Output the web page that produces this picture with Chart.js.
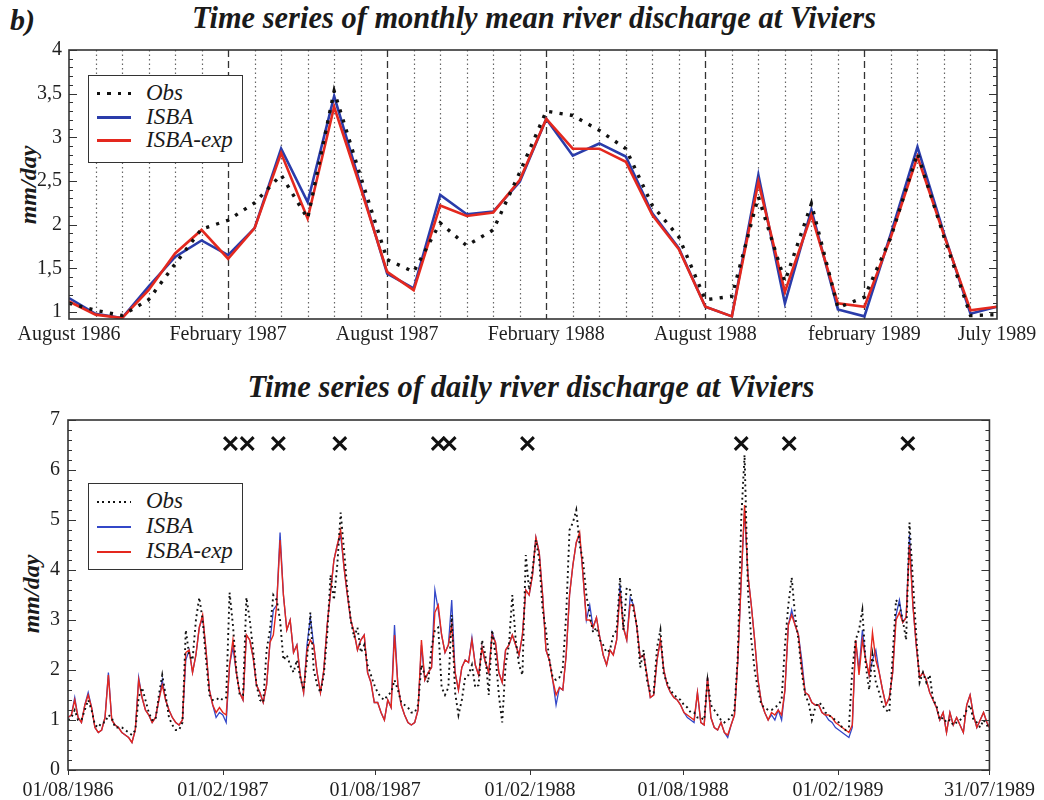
<!DOCTYPE html>
<html>
<head>
<meta charset="utf-8">
<script src="https://cdn.jsdelivr.net/npm/chart.js@4.4.1/dist/chart.umd.min.js"></script>
<style>
html, body { margin: 0; padding: 0; background: #fff; }
#page { position: relative; width: 1044px; height: 800px; overflow: hidden;
  font-family: "Liberation Serif", "Times New Roman", serif; color: #1a1a1a; }
canvas { position: absolute; left: 0; }
.title { position: absolute; white-space: nowrap; font-weight: bold; font-style: italic;
  font-size: 32px; line-height: 32px; }
.panel-tag { position: absolute; left: 10px; top: 5px; font-weight: bold; font-style: italic;
  font-size: 30px; line-height: 30px; }
.ytitle { position: absolute; white-space: nowrap; font-weight: bold; font-style: italic;
  font-size: 24px; line-height: 24px; transform: translate(-50%, -50%) rotate(-90deg); }
.legend { position: absolute; left: 88px; width: 155px; background: #fff;
  border: 1.5px solid #333; box-sizing: border-box; }
.legend .sw { position: absolute; left: 8px; width: 34px; }
.legend .lab { position: absolute; left: 57px; font-style: italic; font-size: 23px;
  line-height: 24px; white-space: nowrap; }
</style>
</head>
<body>
<div id="page">
  <div class="panel-tag">b)</div>
  <div class="title" id="t1" style="left:534px; top:1px;">Time series of monthly mean river discharge at Viviers</div>
  <div class="title" id="t2" style="left:531px; top:370px;">Time series of daily river discharge at Viviers</div>
  <div class="ytitle" style="left:28px; top:185px;">mm/day</div>
  <div class="ytitle" style="left:31px; top:594px;">mm/day</div>

  <canvas id="monthly" width="1044" height="345" style="top:0;"></canvas>
  <canvas id="daily" width="1044" height="400" style="top:400px;"></canvas>

  <div class="legend" style="top:75px; height:88px;">
    <div class="sw" style="top:16px; height:3px; background:repeating-linear-gradient(90deg,#111 0 3px,transparent 3px 10.5px);"></div>
    <div class="lab" style="top:5px;">Obs</div>
    <div class="sw" style="top:40px; height:3px; background:#2a3caa;"></div>
    <div class="lab" style="top:29px;">ISBA</div>
    <div class="sw" style="top:63px; height:3px; background:#e4281e;"></div>
    <div class="lab" style="top:52px;">ISBA-exp</div>
  </div>

  <div class="legend" style="top:483px; height:87px;">
    <div class="sw" style="top:17px; height:2px; background:repeating-linear-gradient(90deg,#111 0 2px,transparent 2px 5.5px);"></div>
    <div class="lab" style="top:5px;">Obs</div>
    <div class="sw" style="top:42px; height:1.5px; background:#3347c8;"></div>
    <div class="lab" style="top:30px;">ISBA</div>
    <div class="sw" style="top:67px; height:1.5px; background:#e4281e;"></div>
    <div class="lab" style="top:55px;">ISBA-exp</div>
  </div>
</div>

<script>
// ---------- Monthly means, Aug 1986 .. Jul 1989 (mm/day) ----------
const monthlyObs = [1.10, 1.02, 0.96, 1.14, 1.55, 1.95, 2.05, 2.25, 2.57, 2.07, 3.53, 2.55,
  1.60, 1.46, 2.02, 1.76, 1.94, 2.60, 3.30, 3.25, 3.08, 2.87, 2.22, 1.86,
  1.14, 1.18, 2.32, 1.35, 2.24, 1.05, 1.17, 1.86, 2.82, 1.86, 0.96, 0.97];
const monthlyIsba = [1.16, 0.98, 0.93, 1.29, 1.63, 1.82, 1.65, 1.96, 2.87, 2.26, 3.47, 2.45,
  1.44, 1.27, 2.34, 2.12, 2.15, 2.49, 3.21, 2.79, 2.93, 2.78, 2.13, 1.73,
  1.06, 0.95, 2.57, 1.10, 2.17, 1.03, 0.95, 1.90, 2.89, 1.90, 0.98, 1.06];
const monthlyIsbaExp = [1.12, 0.97, 0.93, 1.25, 1.67, 1.94, 1.61, 1.96, 2.82, 2.07, 3.35, 2.42,
  1.46, 1.25, 2.22, 2.10, 2.14, 2.51, 3.21, 2.87, 2.87, 2.72, 2.11, 1.72,
  1.06, 0.95, 2.49, 1.23, 2.11, 1.10, 1.06, 1.86, 2.78, 1.88, 1.02, 1.06];
const monthTickIdx = [0, 6, 12, 18, 24, 30, 35];
const monthTickText = ['August 1986', 'February 1987', 'August 1987', 'February 1988',
  'August 1988', 'february 1989', 'July 1989'];
const monthlyYTicks = [1, 1.5, 2, 2.5, 3, 3.5, 4];
const monthlyYTickText = ['1', '1,5', '2', '2,5', '3', '3,5', '4'];

// ---------- Daily discharge, one sample every 4 days from 01/08/1986 (mm/day) ----------
const STEP_DAYS = 4;
const LAST_DAY = 1095;
const dailyObs = [
  1.0,1.05,1.2,1.0,1.0,1.2,1.4,1.2,0.9,0.85, 0.95,0.95,1.1,1.05,0.85,0.85,0.85,0.8,0.75,0.7,
  0.8,1.45,1.65,1.4,1.15,1.0,1.0,1.5,1.9,1.5, 1.05,0.9,0.8,0.8,0.95,2.8,2.3,2.2,3.0,3.45,
  3.0,2.2,1.5,1.4,1.4,1.45,1.4,1.45,3.55,2.9, 2.0,1.5,1.5,3.45,3.0,2.4,1.7,1.4,1.35,2.4,
  2.8,3.5,3.4,3.0,2.2,2.3,2.1,1.95,2.2,
  1.85,1.6,2.2,3.15,2.0,1.7,1.55,1.9,2.7,3.9, 3.4,4.1,5.15,4.4,3.6,3.0,2.65,2.85,2.35,2.5,
  2.1,1.9,1.7,1.55,1.45,1.4,1.5,1.55,1.8,1.6, 1.35,1.3,1.25,1.15,1.15,1.3,2.1,1.9,1.75,2.45,
  2.8,2.85,1.65,1.5,1.65,3.1,1.55,1.1,1.4,1.85, 1.9,2.1,1.65,1.7,2.6,2.3,1.5,2.8,2.3,1.5,
  0.95,2.1,2.5,3.5,2.6,2.1,1.9,4.3,
  3.6,4.0,4.6,4.2,3.2,2.8,2.2,1.85,1.8,1.85, 2.05,3.1,4.8,4.95,5.2,4.5,4.2,3.5,3.1,2.75,
  2.85,2.6,2.5,2.35,2.4,2.7,2.8,3.85,2.8,3.65, 3.6,3.2,2.9,2.05,2.4,1.8,1.55,1.55,2.45,2.8,
  1.9,1.75,1.6,1.5,1.45,1.4,1.3,1.25,1.15,1.15, 1.05,1.05,1.0,1.8,1.3,1.2,1.1,1.0,0.95,1.0,
  1.05,1.2,2.3,5.0,6.3,3.6,2.6,2.0,
  1.6,1.3,1.25,1.2,1.2,1.25,1.3,1.4,2.5,3.3, 3.85,3.1,2.6,1.95,1.5,1.35,1.0,1.25,1.35,1.3,
  1.15,1.1,1.05,1.0,0.95,0.85,0.8,0.85,2.0,2.6, 2.8,3.2,2.1,1.6,2.3,1.75,1.55,1.3,1.2,1.15,
  2.3,3.4,3.3,3.0,2.6,4.95,3.8,2.7,1.75,1.95, 1.75,1.9,1.4,1.3,1.0,1.05,0.95,1.0,0.9,0.95,
  1.0,1.05,1.2,1.3,1.0,0.95,0.85,1.0,0.9,0.8
];
const dailyIsba = [
  1.05,1.1,1.45,1.05,0.95,1.3,1.55,1.25,0.85,0.75, 0.8,1.05,1.95,1.0,0.9,0.85,0.75,0.7,0.65,0.55,
  0.8,1.85,1.45,1.2,1.1,0.95,1.05,1.4,1.8,1.4, 1.2,1.05,0.95,0.9,1.0,2.2,2.4,1.95,2.3,2.85,
  3.05,2.4,1.6,1.3,1.05,1.15,1.1,0.95,2.1,2.45, 1.95,1.55,1.4,2.7,2.6,2.25,1.7,1.55,1.35,1.7,
  2.55,3.2,3.3,4.75,3.5,2.8,3.0,2.35,2.5,
  1.9,1.55,2.5,3.05,2.5,1.95,1.55,2.0,2.9,3.55, 4.2,4.5,4.7,4.05,3.5,3.0,2.75,2.4,2.6,2.7,
  1.95,1.75,1.35,1.35,1.15,1.0,1.4,1.25,2.9,1.7, 1.3,1.1,0.95,0.9,0.95,1.2,2.5,1.8,1.95,2.05,
  3.6,3.2,2.7,2.35,2.5,3.4,1.95,1.6,2.05,2.2, 2.15,2.65,2.1,1.9,2.45,2.15,1.95,2.75,2.55,1.95,
  1.75,2.4,2.5,2.7,2.5,2.3,2.7,3.6,
  3.5,3.9,4.65,4.35,3.5,2.4,2.2,1.8,1.3,1.65, 1.6,2.3,3.5,4.1,4.55,4.7,3.9,3.0,3.3,2.85,
  3.05,2.65,2.3,2.1,2.4,2.3,2.6,3.7,2.85,2.6, 3.45,3.3,2.85,2.25,2.3,1.9,1.45,1.5,2.2,2.6,
  2.0,1.7,1.55,1.45,1.4,1.3,1.15,1.05,1.0,0.95, 1.55,0.95,0.9,1.85,1.05,0.85,0.8,0.95,0.75,0.65,
  0.9,1.1,2.2,3.8,5.2,3.9,3.3,2.6,
  1.8,1.35,1.15,1.0,1.1,1.0,1.2,1.0,1.6,2.9, 3.2,2.9,2.7,2.2,1.55,1.5,1.35,1.3,1.3,1.15,
  1.1,1.0,0.95,0.85,0.8,0.75,0.7,0.65,0.85,2.6, 2.0,2.8,2.2,1.9,2.2,2.4,1.95,1.6,1.3,1.45,
  1.95,3.1,3.4,2.95,3.05,4.7,3.3,2.5,1.85,1.95, 1.8,1.55,1.4,1.25,1.0,1.15,0.75,1.15,0.9,1.05,
  0.9,0.75,1.3,1.5,1.1,0.85,1.0,1.15,0.95,0.85
];
const dailyIsbaExp = [
  1.05,1.1,1.4,1.05,0.95,1.3,1.5,1.25,0.85,0.75, 0.8,1.05,1.9,1.0,0.9,0.85,0.75,0.7,0.65,0.55,
  0.8,1.8,1.45,1.2,1.1,0.95,1.05,1.4,1.7,1.4, 1.2,1.05,0.95,0.9,1.0,2.35,2.4,1.95,2.3,2.85,
  3.1,2.4,1.6,1.3,1.15,1.25,1.15,1.1,2.1,2.6, 1.95,1.55,1.4,2.7,2.6,2.25,1.7,1.55,1.35,1.7,
  2.55,2.7,3.3,4.6,3.5,2.8,3.0,2.35,2.5,
  1.9,1.55,2.4,2.6,2.5,1.95,1.55,2.0,2.9,3.55, 4.2,4.5,4.8,4.05,3.5,3.0,2.75,2.4,2.6,2.7,
  1.95,1.75,1.35,1.35,1.15,1.0,1.4,1.25,2.7,1.7, 1.3,1.1,0.95,0.9,0.95,1.2,2.6,1.8,1.95,2.05,
  3.15,3.3,2.7,2.35,2.5,2.9,1.95,1.6,2.05,2.2, 2.15,2.6,2.1,1.9,2.45,2.15,1.95,2.7,2.55,1.95,
  1.75,2.4,2.5,2.7,2.5,2.3,2.7,3.6,
  3.5,3.9,4.65,4.35,3.5,2.4,2.2,1.8,1.5,1.65, 1.6,2.3,3.5,4.1,4.55,4.75,3.9,3.0,3.0,2.85,
  3.05,2.65,2.3,2.1,2.4,2.3,2.6,3.55,2.85,2.6, 3.3,3.3,2.85,2.25,2.3,1.9,1.45,1.5,2.2,2.6,
  2.0,1.7,1.55,1.45,1.4,1.3,1.15,1.1,1.05,1.0, 1.55,0.95,0.9,1.85,1.05,0.85,0.8,0.95,0.75,0.7,
  0.9,1.1,2.2,3.8,5.3,3.9,3.3,2.6,
  1.8,1.35,1.15,1.0,1.15,1.1,1.2,1.1,1.6,2.9, 3.1,2.9,2.7,2.05,1.55,1.5,1.35,1.3,1.3,1.15,
  1.1,1.1,1.05,0.95,0.9,0.85,0.8,0.75,0.9,2.6, 1.9,2.6,2.2,1.9,2.75,2.2,1.95,1.6,1.3,1.45,
  1.95,3.0,3.15,2.95,3.05,4.5,3.3,2.5,1.85,1.95, 1.8,1.55,1.4,1.25,1.0,1.15,0.75,1.15,0.9,1.05,
  0.9,0.75,1.3,1.5,1.1,0.85,1.0,1.15,0.95,0.85
];
// flood events (day offsets) flagged with a cross above the curves
const floodDays = [193, 213, 250, 323, 440, 453, 546, 800, 857, 998];
const floodMarkLevel = 6.53;
const dailyTickDays = [0, 184, 365, 549, 731, 915, 1095];
const dailyTickText = ['01/08/1986', '01/02/1987', '01/08/1987', '01/02/1988',
  '01/08/1988', '01/02/1989', '31/07/1989'];

// ---------- colours ----------
const OBS_COLOR = '#111111';
const ISBA_COLOR = '#2a3caa';
const ISBA_DAILY_COLOR = '#3347c8';
const EXP_COLOR = '#e4281e';
const FRAME_COLOR = '#333333';

Chart.defaults.font.family = '"Liberation Serif", "Times New Roman", serif';
Chart.defaults.color = '#1f1f1f';

const dayOf = i => Math.min(i * STEP_DAYS, LAST_DAY);
const toDaily = arr => arr.map((v, i) => ({ x: dayOf(i), y: v }));
const toMonthly = arr => arr.map((v, i) => ({ x: i, y: v }));

// Frame around the plot area plus inward major/minor ticks on both y sides
const frameTicks = {
  id: 'frameTicks',
  afterDatasetsDraw(chart, args, opts) {
    const { ctx, chartArea: a, scales: { x, y } } = chart;
    ctx.save();
    ctx.strokeStyle = FRAME_COLOR;
    ctx.lineWidth = 1;
    const n = Math.round((opts.to - opts.from) / opts.minor);
    for (let k = 0; k <= n; k++) {
      const v = opts.from + k * opts.minor;
      const r = v / opts.major;
      const isMajor = Math.abs(r - Math.round(r)) < 1e-6;
      const len = isMajor ? 8 : 4;
      const py = Math.round(y.getPixelForValue(v)) + 0.5;
      ctx.beginPath();
      ctx.moveTo(a.left, py); ctx.lineTo(a.left + len, py);
      ctx.moveTo(a.right, py); ctx.lineTo(a.right - len, py);
      ctx.stroke();
    }
    if (opts.xTicks) {
      opts.xTicks.forEach(v => {
        const px = Math.round(x.getPixelForValue(v)) + 0.5;
        ctx.beginPath(); ctx.moveTo(px, a.bottom); ctx.lineTo(px, a.bottom + 5); ctx.stroke();
      });
    }
    ctx.lineWidth = 1.6;
    ctx.strokeRect(a.left, a.top, a.right - a.left, a.bottom - a.top);
    ctx.restore();
  }
};

// Vertical month lines: dotted every month, dashed every six months
const monthGrid = {
  id: 'monthGrid',
  beforeDatasetsDraw(chart) {
    const { ctx, chartArea: a, scales: { x } } = chart;
    ctx.save();
    for (let i = 1; i < monthlyObs.length - 1; i++) {
      const px = Math.round(x.getPixelForValue(i)) + 0.5;
      const half = i % 6 === 0;
      ctx.strokeStyle = half ? '#333' : '#666';
      ctx.lineWidth = half ? 1.3 : 1.2;
      ctx.setLineDash(half ? [7, 4] : [1.5, 3]);
      ctx.beginPath(); ctx.moveTo(px, a.top); ctx.lineTo(px, a.bottom); ctx.stroke();
    }
    ctx.restore();
  }
};

const tickFont = { family: '"Liberation Serif", "Times New Roman", serif', size: 20 };

new Chart(document.getElementById('monthly'), {
  type: 'line',
  data: {
    datasets: [
      { label: 'Obs', data: toMonthly(monthlyObs), borderColor: OBS_COLOR, borderWidth: 3.4,
        borderDash: [3.2, 7.3], borderCapStyle: 'butt', pointRadius: 0, tension: 0 },
      { label: 'ISBA-exp', data: toMonthly(monthlyIsbaExp), borderColor: EXP_COLOR,
        borderWidth: 2.6, pointRadius: 0, tension: 0 },
      { label: 'ISBA', data: toMonthly(monthlyIsba), borderColor: ISBA_COLOR,
        borderWidth: 2.6, pointRadius: 0, tension: 0 }
    ]
  },
  options: {
    responsive: false, animation: false, devicePixelRatio: 1,
    layout: { padding: { left: 0, right: 47, top: 50, bottom: 0 } },
    plugins: {
      legend: { display: false }, tooltip: { enabled: false },
      frameTicks: { from: 1, to: 4, minor: 0.1, major: 0.5 }
    },
    scales: {
      x: {
        type: 'linear', min: 0, max: monthlyObs.length - 1,
        afterFit: s => { s.height = 26; },
        afterBuildTicks: s => { s.ticks = monthTickIdx.map(v => ({ value: v })); },
        grid: { display: false, drawTicks: false }, border: { display: false },
        ticks: { autoSkip: false, maxRotation: 0, padding: 4, font: tickFont,
          callback: v => monthTickText[monthTickIdx.indexOf(v)] }
      },
      y: {
        min: 0.92, max: 4,
        afterFit: s => { s.width = 69; },
        afterBuildTicks: s => { s.ticks = monthlyYTicks.map(v => ({ value: v })); },
        grid: { display: false, drawTicks: false }, border: { display: false },
        ticks: { padding: 7, font: tickFont,
          callback: v => monthlyYTickText[monthlyYTicks.indexOf(v)] }
      }
    }
  },
  plugins: [monthGrid, frameTicks]
});

new Chart(document.getElementById('daily'), {
  type: 'line',
  data: {
    datasets: [
      { type: 'scatter', label: 'events', data: floodDays.map(d => ({ x: d, y: floodMarkLevel })),
        pointStyle: 'crossRot', pointRadius: 9, borderColor: OBS_COLOR, borderWidth: 3,
        showLine: false },
      { label: 'Obs', data: toDaily(dailyObs), borderColor: OBS_COLOR, borderWidth: 1.9,
        borderDash: [1.9, 3.4], borderCapStyle: 'butt', pointRadius: 0, tension: 0 },
      { label: 'ISBA-exp', data: toDaily(dailyIsbaExp), borderColor: EXP_COLOR,
        borderWidth: 1.4, pointRadius: 0, tension: 0 },
      { label: 'ISBA', data: toDaily(dailyIsba), borderColor: ISBA_DAILY_COLOR,
        borderWidth: 1.3, pointRadius: 0, tension: 0 }
    ]
  },
  options: {
    responsive: false, animation: false, devicePixelRatio: 1,
    layout: { padding: { left: 0, right: 48, top: 20, bottom: 0 } },
    plugins: {
      legend: { display: false }, tooltip: { enabled: false },
      frameTicks: { from: 0, to: 7, minor: 0.2, major: 1, xTicks: dailyTickDays }
    },
    scales: {
      x: {
        type: 'linear', min: 0, max: LAST_DAY,
        afterFit: s => { s.height = 30; },
        afterBuildTicks: s => { s.ticks = dailyTickDays.map(v => ({ value: v })); },
        grid: { display: false, drawTicks: false }, border: { display: false },
        ticks: { autoSkip: false, maxRotation: 0, padding: 9, font: tickFont,
          callback: v => dailyTickText[dailyTickDays.indexOf(v)] }
      },
      y: {
        min: 0, max: 7,
        afterFit: s => { s.width = 68; },
        grid: { display: false, drawTicks: false }, border: { display: false },
        ticks: { stepSize: 1, padding: 8, font: tickFont }
      }
    }
  },
  plugins: [frameTicks]
});

// condensed heading type: squeeze each title to its set width
function fitTitle(id, width) {
  const el = document.getElementById(id);
  el.style.transform = 'none';
  const w = el.getBoundingClientRect().width;
  el.style.transform = 'translateX(-50%) scaleX(' + (width / w) + ')';
}
function fitTitles() { fitTitle('t1', 684); fitTitle('t2', 567); }
fitTitles();
if (document.fonts && document.fonts.ready) document.fonts.ready.then(fitTitles);
</script>
</body>
</html>
